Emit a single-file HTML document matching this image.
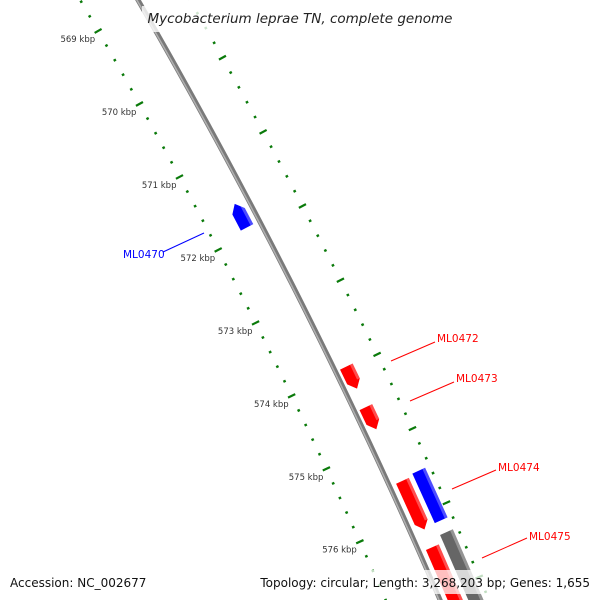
<!DOCTYPE html>
<html><head><meta charset="utf-8"><style>
html,body{margin:0;background:#fff;width:600px;height:600px;overflow:hidden;}
svg{display:block;font-family:"DejaVu Sans","Liberation Sans",sans-serif;overflow:hidden;}
</style></head><body>
<svg id="map" width="600" height="600" viewBox="0 0 600 600">
<g id="ticks"></g>
<g id="backbone"></g>
<g id="feats"></g>
<g id="labels"></g>
<rect x="142" y="6" width="316" height="26" fill="#fff" fill-opacity="0.8"/>
<text x="300" y="23" text-anchor="middle" font-size="13.5" font-style="italic" fill="#222">Mycobacterium leprae TN, complete genome</text>
<rect x="4" y="570" width="592" height="24" fill="#fff" fill-opacity="0.75"/>
<text x="10" y="587" font-size="12" fill="#111">Accession: NC_002677</text>
<text x="590" y="587" font-size="12" fill="#111" text-anchor="end">Topology: circular; Length: 3,268,203 bp; Genes: 1,655</text>
</svg>
<script>
const majorTicks=[569,570,571,572,573,574,575,576,577];
const featNames=["ML0470","ML0472","ML0473","ML0474","ML0474b","ML0475","ML0475b"];
const featStart=[571.6,573.97,574.52,575.53,575.50,576.43,576.33];
const featEnd=[571.92,574.27,574.82,576.19,576.17,577.4,577.4];
const featColor=["#0000ff","#ff0000","#ff0000","#ff0000","#0000ff","#ff0000","#666666"];
const featDir=[-1,1,1,1,0,1,0];
const featRing=[-14,12,12,14,33,14,33];
const labelText=["ML0470","ML0472","ML0473","ML0474","ML0475"];
const labelColor=["#0000ff","#ff0000","#ff0000","#ff0000","#ff0000"];
const NS="http://www.w3.org/2000/svg";
function y0(k){return 6+(k-569)*73.6;}
function bx(y){return 138+0.5767*y-0.000122*y*y;}
function pt(k,d){const y=y0(k),s=0.5767-0.000244*y,n=Math.sqrt(1+s*s);return [bx(y)+d/n,y-d*s/n];}
function mk(tag,attrs,parent){const e=document.createElementNS(NS,tag);for(const a in attrs)e.setAttribute(a,attrs[a]);parent.appendChild(e);return e;}
const bb=document.getElementById('backbone');let p1=[],p2=[];
for(let k=568.8;k<=577.8;k+=0.1){const a=pt(k,0),b=pt(k,-1);p1.push(a.join(','));p2.push(b.join(','));}
const bl=mk('polyline',{points:p1.join(' '),fill:'none',stroke:'#7a7a7a','stroke-width':5},bb);


const bh=mk('polyline',{points:p2.join(' '),fill:'none',stroke:'#b0b0b0','stroke-width':1.5},bb);


const tg=document.getElementById('ticks');
const rings=[-50,45];
rings.forEach((d,ri)=>{
  for(let i=-3;i<=42;i++){
    const k=569+i*0.2;const major=Math.abs(k-Math.round(k))<1e-6;
    const len=major?4:1.3;
    const a=pt(k,d-len),b=pt(k,d+len);
    const l=mk('line',{x1:a[0],y1:a[1],x2:b[0],y2:b[1],stroke:'#0a7a0a','stroke-width':major?2.2:2.4},tg);
    
    
  }
});
majorTicks.forEach(k=>{
  const p=pt(k,-50);
  if(p[1]>560)return;
  const t=mk('text',{x:p[0]-3,y:p[1]+11,'font-size':8.5,fill:'#333','text-anchor':'end'},tg);
  t.textContent=k+' kbp';
  
  
});
const fg=document.getElementById('feats');
featNames.forEach((nm,i)=>{
  const w=featDir[i]===0?14:14,d=featRing[i],h=w/2,ah=0.1;
  let k1=featStart[i],k2=featEnd[i],pts;
  if(featDir[i]===1){pts=[pt(k1,d-h),pt(k2-ah,d-h),pt(k2,d),pt(k2-ah,d+h),pt(k1,d+h)];}
  else if(featDir[i]===-1){pts=[pt(k2,d-h),pt(k1+ah,d-h),pt(k1,d),pt(k1+ah,d+h),pt(k2,d+h)];}
  else{pts=[pt(k1,d-h),pt(k2,d-h),pt(k2,d+h),pt(k1,d+h)];}
  const poly=mk('polygon',{points:pts.map(p=>p.join(',')).join(' '),fill:featColor[i]},fg);
  
  
  const s1=pt(k1,d+h-3),s2=pt(featDir[i]===1?k2-ah:k2,d+h-3),s3=pt(featDir[i]===1?k2-ah:k2,d+h),s4=pt(k1,d+h);
  const hl=mk('polygon',{points:[s1,s2,s3,s4].map(p=>p.join(',')).join(' '),fill:'#fff','fill-opacity':0.3},fg);
  
  
});
const lg=document.getElementById('labels');
const lblAnchor=[[204,233,163,252,123,258],[391,361,435,342,437,342],[410,401,454,382,456,382],[452,489,496,470,498,471],[482,558,527,538,529,540]];
labelText.forEach((t,i)=>{
  const a=lblAnchor[i];
  const l=mk('line',{x1:a[0],y1:a[1],x2:a[2],y2:a[3],stroke:labelColor[i],'stroke-width':1},lg);
  
  
  const tx=mk('text',{x:a[4],y:a[5],'font-size':10.5,fill:labelColor[i]},lg);
  tx.textContent=t;
  
  
});
</script>
</body></html>
